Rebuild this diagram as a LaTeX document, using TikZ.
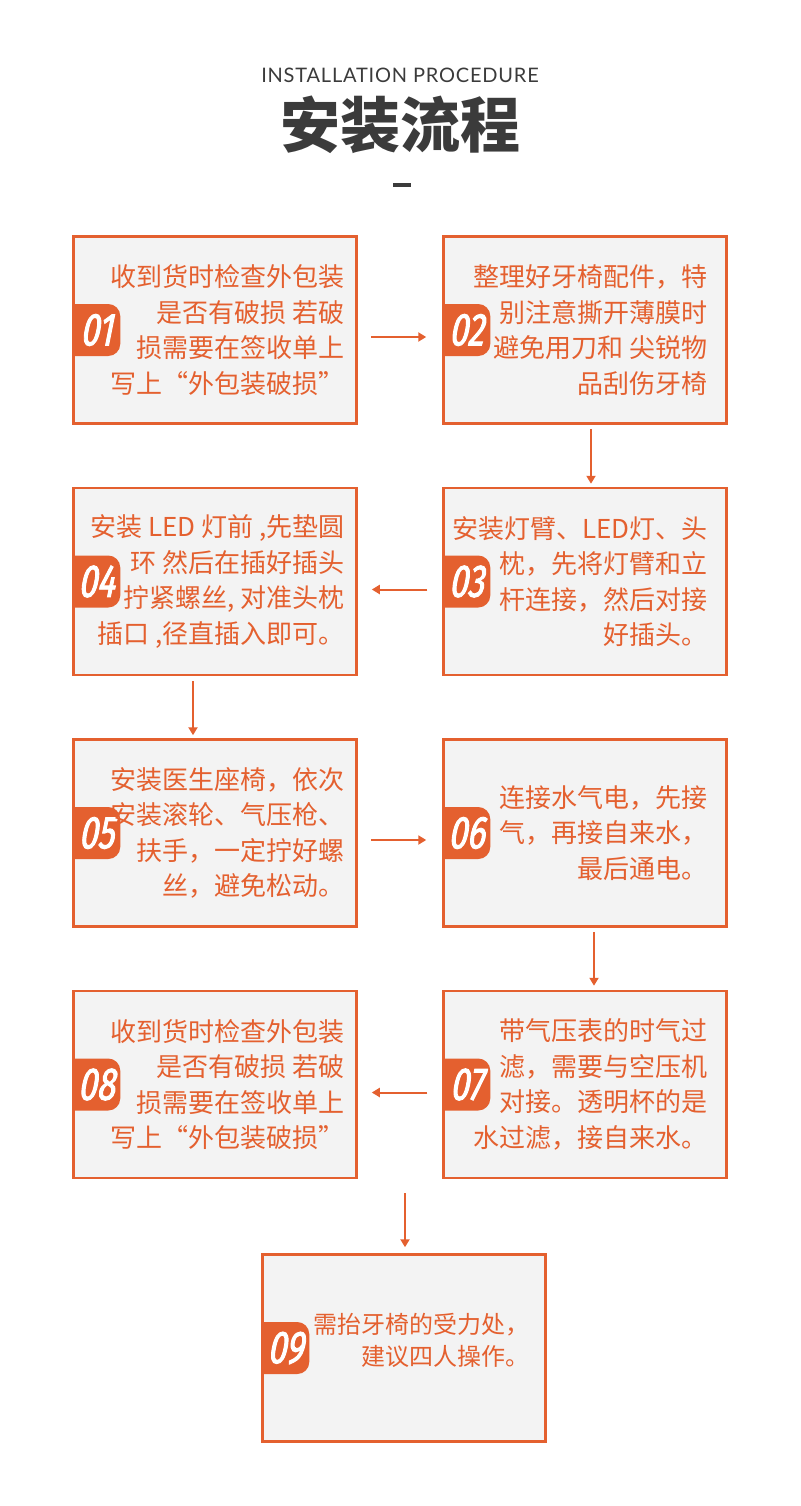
\documentclass[tikz,border=0pt]{standalone}
\usepackage{fontspec}
\usepackage{tikz}
\usetikzlibrary{arrows.meta,positioning,calc}

\newfontfamily\cjk{Noto Sans CJK SC}
\newfontfamily\numfont[FakeStretch=0.72,FakeSlant=0.2,FakeBold=2]{Fira Sans}
\newfontfamily\headfont[LetterSpace=4]{Lato}

\definecolor{accent}{HTML}{E4602F}
\definecolor{boxbg}{HTML}{F3F3F3}
\definecolor{ink}{HTML}{3B3B3B}

\begin{document}
\begin{tikzpicture}[
    x=1pt, y=-1pt,
    node distance=62pt and 84.5pt,
    stepbox/.style={rectangle, draw=accent, line width=2.5pt, fill=boxbg, minimum width=283pt, minimum height=187pt},
    badge/.style={anchor=west, inner sep=0pt, outer sep=0pt, minimum width=48pt, minimum height=52pt, text=white, font=\numfont\fontsize{46}{46}\selectfont,
        path picture={\fill[accent, rounded corners=12pt] ([xshift=-16pt]path picture bounding box.south west) rectangle (path picture bounding box.north east);}},
    desc/.style={anchor=east, align=right, inner sep=0pt, text=accent, font=\cjk\fontsize{26}{35.5}\selectfont},
    arrow/.style={draw=accent, line width=2pt, -{Triangle[length=8pt,width=9pt]}}
]
\useasboundingbox (0,0) rectangle (800,1506);

% Heading
\node (entitle) [font=\headfont\fontsize{20}{20}\selectfont, text=ink] at (400,75) {INSTALLATION PROCEDURE};
\node (cntitle) [font=\cjk\bfseries\fontsize{60}{60}\selectfont, text=ink] at (400,125) {安装流程};
\node (dash) [fill=ink, minimum width=18pt, minimum height=4pt, inner sep=0pt] at (402,185) {};

% Boxes
\node (box1) [stepbox] at (215,330) {};
\node (box2) [stepbox, right=of box1] {};
\node (box3) [stepbox, below=of box2] {};
\node (box4) [stepbox, left=of box3] {};
\node (box5) [stepbox, below=of box4] {};
\node (box6) [stepbox, right=of box5] {};
\node (box7) [stepbox, below=of box6] {};
\node (box8) [stepbox, left=of box7] {};
\node (box9) [stepbox, below=74pt of box8, xshift=189pt] {};

% Number tabs
\node (num1) [badge] at (box1.west) {01};
\node (num2) [badge] at (box2.west) {02};
\node (num3) [badge] at (box3.west) {03};
\node (num4) [badge] at (box4.west) {04};
\node (num5) [badge] at (box5.west) {05};
\node (num6) [badge] at (box6.west) {06};
\node (num7) [badge] at (box7.west) {07};
\node (num8) [badge] at (box8.west) {08};
\node (num9) [badge] at (box9.west) {09};

% Texts
\node (txt1) [desc] at ([xshift=-13pt]box1.east) {收到货时检查外包装\\是否有破损 若破\\损需要在签收单上\\写上“外包装破损”};
\node (txt2) [desc] at ([xshift=-20pt]box2.east) {整理好牙椅配件，特\\别注意撕开薄膜时\\避免用刀和 尖锐物\\品刮伤牙椅};
\node (txt3) [desc] at ([xshift=-20pt]box3.east) {安装灯臂、LED灯、头\\枕，先将灯臂和立\\杆连接，然后对接\\好插头。};
\node (txt4) [desc] at ([xshift=-13pt]box4.east) {安装 LED 灯前 ,先垫圆\\环 然后在插好插头\\拧紧螺丝, 对准头枕\\插口 ,径直插入即可。};
\node (txt5) [desc] at ([xshift=-13pt]box5.east) {安装医生座椅，依次\\安装滚轮、气压枪、\\扶手，一定拧好螺\\丝，避免松动。};
\node (txt6) [desc] at ([xshift=-20pt]box6.east) {连接水气电，先接\\气，再接自来水，\\最后通电。};
\node (txt7) [desc] at ([xshift=-20pt]box7.east) {带气压表的时气过\\滤，需要与空压机\\对接。透明杯的是\\水过滤，接自来水。};
\node (txt8) [desc] at ([xshift=-13pt]box8.east) {收到货时检查外包装\\是否有破损 若破\\损需要在签收单上\\写上“外包装破损”};
\node (txt9) [desc, font=\cjk\fontsize{24}{32}\selectfont] at ([xshift=-17pt,yshift=8pt]box9.east) {需抬牙椅的受力处，\\建议四人操作。};

% Arrows
\draw [arrow] ([xshift=13pt,yshift=-7pt]box1.east) -- ([xshift=-16pt,yshift=-7pt]box2.west);
\draw [arrow] ([xshift=6pt,yshift=-4pt]box2.south) -- ([xshift=6pt,yshift=3pt]box3.north);
\draw [arrow] ([xshift=-15pt,yshift=-8pt]box3.west) -- ([xshift=14pt,yshift=-8pt]box4.east);
\draw [arrow] ([xshift=-22pt,yshift=-5pt]box4.south) -- ([xshift=-22pt,yshift=3pt]box5.north);
\draw [arrow] ([xshift=13pt,yshift=-7pt]box5.east) -- ([xshift=-16pt,yshift=-7pt]box6.west);
\draw [arrow] ([xshift=9pt,yshift=-4pt]box6.south) -- ([xshift=9pt,yshift=4pt]box7.north);
\draw [arrow] ([xshift=-15pt,yshift=-8pt]box7.west) -- ([xshift=14pt,yshift=-8pt]box8.east);
\draw [arrow] ([xshift=190pt,yshift=-14pt]box8.south) -- ([xshift=1pt,yshift=6pt]box9.north);

\end{tikzpicture}
\end{document}
